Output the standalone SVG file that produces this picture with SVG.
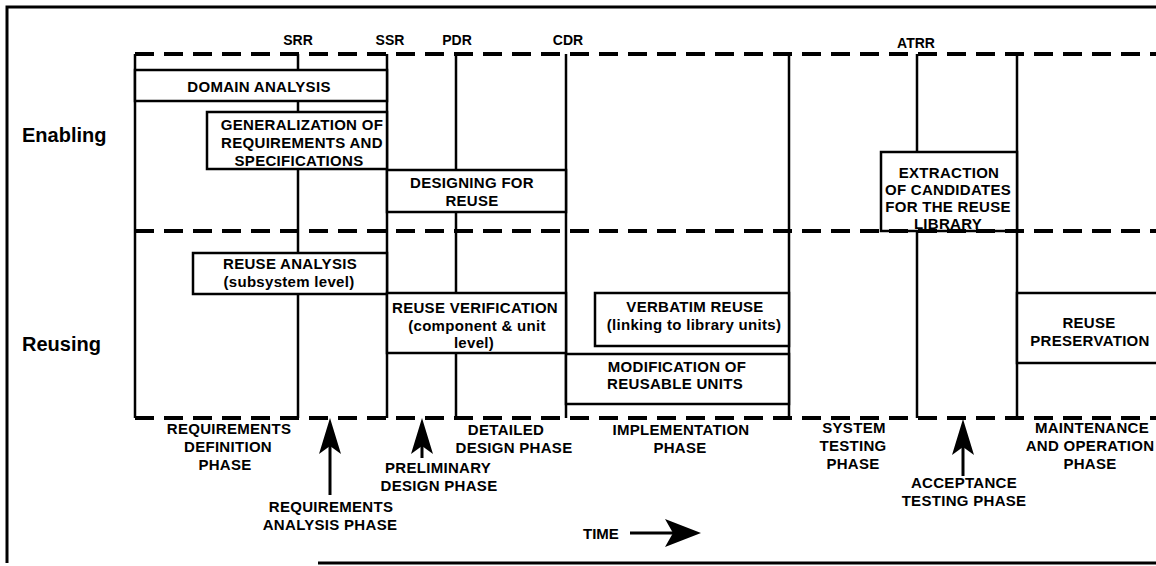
<svg xmlns="http://www.w3.org/2000/svg" width="1156" height="566" viewBox="0 0 1156 566">
<style>
  .frame{fill:none;stroke:#000;stroke-width:3}
  .solid{fill:none;stroke:#000;stroke-width:2.5}
  .dash{fill:none;stroke:#000;stroke-width:4;stroke-dasharray:19 10}
  .box{fill:#fff;stroke:#000;stroke-width:2.5}
  .shaft{fill:none;stroke:#000;stroke-width:3}
  text{font-family:"Liberation Sans",Arial,Helvetica,sans-serif;font-weight:bold;fill:#000}
  .t{font-size:15px;letter-spacing:0.3px;text-anchor:middle}
  .m{font-size:14px;text-anchor:middle}
  .row{font-size:20px}
</style>
<defs>
  <marker id="ah" viewBox="0 0 36 22" refX="8" refY="11" markerWidth="36" markerHeight="22" markerUnits="userSpaceOnUse" orient="auto">
    <path d="M0,0 L36,11 L0,22 L8,11 Z" fill="#000"/>
  </marker>
  <marker id="ahBig" viewBox="0 0 36 28" refX="8" refY="14" markerWidth="36" markerHeight="28" markerUnits="userSpaceOnUse" orient="auto">
    <path d="M0,0 L36,14 L0,28 L8,14 Z" fill="#000"/>
  </marker>
</defs>
<rect width="1156" height="566" fill="#fff"/>
<path class="frame" d="M1156,7 L7,7 L7,563"/>
<line class="frame" x1="318" y1="563" x2="1156" y2="563"/>

<g id="grid">
  <line class="solid" x1="135" y1="54" x2="135" y2="418"/>
  <line class="solid" x1="298" y1="54" x2="298" y2="418"/>
  <line class="solid" x1="387" y1="54" x2="387" y2="418"/>
  <line class="solid" x1="456" y1="54" x2="456" y2="418"/>
  <line class="solid" x1="566" y1="54" x2="566" y2="418"/>
  <line class="solid" x1="789" y1="54" x2="789" y2="418"/>
  <line class="solid" x1="917" y1="54" x2="917" y2="418"/>
  <line class="solid" x1="1017" y1="54" x2="1017" y2="418"/>
</g>

<g id="milestones">
  <text class="m" x="298" y="45">SRR</text>
  <text class="m" x="390" y="45">SSR</text>
  <text class="m" x="457" y="45">PDR</text>
  <text class="m" x="568" y="45">CDR</text>
  <text class="m" x="916" y="48">ATRR</text>
</g>

<g id="row-labels">
  <text class="row" x="22" y="142">Enabling</text>
  <text class="row" x="22" y="351">Reusing</text>
</g>

<g id="domain-analysis">
  <rect class="box" x="135" y="70" width="252" height="31"/>
  <text class="t" x="259" y="92">DOMAIN ANALYSIS</text>
</g>
<g id="generalization">
  <rect class="box" x="207" y="112" width="180" height="57"/>
  <text class="t" x="302" y="130">GENERALIZATION OF</text>
  <text class="t" x="302" y="148">REQUIREMENTS AND</text>
  <text class="t" x="299" y="166">SPECIFICATIONS</text>
</g>
<g id="designing-for-reuse">
  <rect class="box" x="387" y="170" width="179" height="42"/>
  <text class="t" x="472" y="188">DESIGNING FOR</text>
  <text class="t" x="472" y="206">REUSE</text>
</g>
<g id="extraction">
  <rect class="box" x="881" y="152" width="136" height="79"/>
  <text class="t" x="949" y="178">EXTRACTION</text>
  <text class="t" x="948" y="195">OF CANDIDATES</text>
  <text class="t" x="948" y="212">FOR THE REUSE</text>
  <text class="t" x="948" y="229">LIBRARY</text>
</g>
<g id="reuse-analysis">
  <rect class="box" x="193" y="253" width="194" height="41"/>
  <text class="t" x="290" y="269">REUSE ANALYSIS</text>
  <text class="t" x="289" y="287">(subsystem level)</text>
</g>
<g id="reuse-verification">
  <rect class="box" x="387" y="293" width="179" height="60"/>
  <text class="t" x="475" y="313">REUSE VERIFICATION</text>
  <text class="t" x="477" y="331">(component &amp; unit</text>
  <text class="t" x="474" y="348">level)</text>
</g>
<g id="verbatim-reuse">
  <rect class="box" x="595" y="293" width="194" height="53"/>
  <text class="t" x="695" y="312">VERBATIM REUSE</text>
  <text class="t" x="694" y="330">(linking to library units)</text>
</g>
<g id="modification">
  <rect class="box" x="566" y="354" width="223" height="50"/>
  <text class="t" x="677" y="372">MODIFICATION OF</text>
  <text class="t" x="675" y="389">REUSABLE UNITS</text>
</g>
<g id="reuse-preservation">
  <rect class="box" x="1017" y="293" width="145" height="70"/>
  <text class="t" x="1089" y="328">REUSE</text>
  <text class="t" x="1090" y="346">PRESERVATION</text>
</g>

<g id="phase-lines">
  <line class="dash" x1="135" y1="54" x2="1156" y2="54"/>
  <line class="dash" x1="135" y1="231" x2="1156" y2="231"/>
  <line class="dash" x1="135" y1="418" x2="1156" y2="418"/>
</g>

<g id="phase-req-def">
  <text class="t" x="229" y="434">REQUIREMENTS</text>
  <text class="t" x="228" y="452">DEFINITION</text>
  <text class="t" x="225" y="470">PHASE</text>
</g>
<g id="phase-req-analysis">
  <text class="t" x="331" y="512">REQUIREMENTS</text>
  <text class="t" x="330" y="530">ANALYSIS PHASE</text>
</g>
<g id="phase-prelim">
  <text class="t" x="438" y="473">PRELIMINARY</text>
  <text class="t" x="439" y="491">DESIGN PHASE</text>
</g>
<g id="phase-detailed">
  <text class="t" x="506" y="435">DETAILED</text>
  <text class="t" x="514" y="453">DESIGN PHASE</text>
</g>
<g id="phase-impl">
  <text class="t" x="681" y="435">IMPLEMENTATION</text>
  <text class="t" x="680" y="453">PHASE</text>
</g>
<g id="phase-system">
  <text class="t" x="854" y="433">SYSTEM</text>
  <text class="t" x="853" y="451">TESTING</text>
  <text class="t" x="853" y="469">PHASE</text>
</g>
<g id="phase-acceptance">
  <text class="t" x="964" y="488">ACCEPTANCE</text>
  <text class="t" x="964" y="506">TESTING PHASE</text>
</g>
<g id="phase-maint">
  <text class="t" x="1092" y="433">MAINTENANCE</text>
  <text class="t" x="1090" y="451">AND OPERATION</text>
  <text class="t" x="1090" y="469">PHASE</text>
</g>
<g id="time">
  <text x="583" y="539" style="font-size:15px">TIME</text>
</g>

<g id="connectors">
  <line class="shaft" x1="330" y1="495" x2="330" y2="446" marker-end="url(#ah)"/>
  <line class="shaft" x1="422" y1="458" x2="422" y2="446" marker-end="url(#ah)"/>
  <line class="shaft" x1="963" y1="476" x2="963" y2="447" marker-end="url(#ah)"/>
  <line class="shaft" x1="630" y1="533" x2="673" y2="533" marker-end="url(#ahBig)"/>
</g>
</svg>
